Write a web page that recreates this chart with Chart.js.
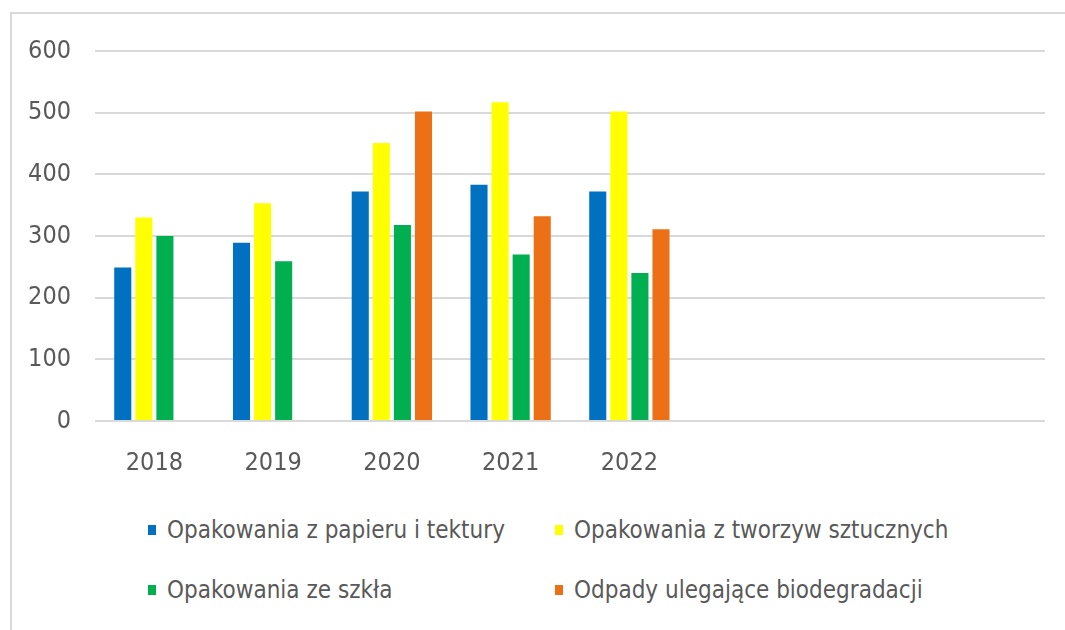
<!DOCTYPE html>
<html>
<head>
<meta charset="utf-8">
<script src="https://cdn.jsdelivr.net/npm/chart.js@4"></script>
<style>
  body { margin: 0; background: #fff; overflow: hidden; }
  #frame { position: absolute; left: 10px; top: 12px; width: 1100px; height: 700px; border: 2px solid #d9d9d9; }
  #wrap { position: absolute; left: 0; top: 0; width: 1065px; height: 500px; }
  #legend { position: absolute; left: 148px; top: 516px; width: 860px; font-family: "DejaVu Sans Condensed", sans-serif; font-size: 24px; color: #595959; }
  .item { position: absolute; white-space: nowrap; }
  .box { display: inline-block; width: 8px; height: 10px; margin-right: 11px; vertical-align: 3px; }
</style>
</head>
<body>
<div id="frame"></div>
<div id="wrap"><canvas id="chart"></canvas></div>
<div id="legend"></div>
<script>
  // data
  const years = ['2018', '2019', '2020', '2021', '2022', '', '', ''];
  const seriesNames = [
    'Opakowania z papieru i tektury',
    'Opakowania z tworzyw sztucznych',
    'Opakowania ze szkła',
    'Odpady ulegające biodegradacji'
  ];
  const papier = [249, 289, 372, 383, 372];
  const tworzywa = [330, 353, 451, 517, 502];
  const szklo = [300, 259, 318, 270, 240];
  const bio = [null, null, 502, 332, 311];
  const yTicks = [0, 100, 200, 300, 400, 500, 600];

  const colors = ['#0070C0', '#FFFF00', '#00B050', '#EC7016'];
  const values = [papier, tworzywa, szklo, bio];

  const font = "'DejaVu Sans Condensed', sans-serif";

  new Chart(document.getElementById('chart'), {
    type: 'bar',
    data: {
      labels: years,
      datasets: values.map((v, i) => ({
        label: seriesNames[i],
        data: v,
        backgroundColor: colors[i],
        borderWidth: 0,
        barPercentage: 0.81,
        categoryPercentage: 0.71
      }))
    },
    options: {
      responsive: true,
      maintainAspectRatio: false,
      animation: false,
      layout: { padding: { top: 51, right: 20, left: 0, bottom: 0 } },
      plugins: { legend: { display: false }, tooltip: { enabled: false } },
      scales: {
        x: {
          grid: { display: false, drawTicks: false },
          border: { display: false },
          ticks: { color: '#595959', font: { family: font, size: 25 }, padding: 27, maxRotation: 0 },
          afterFit: s => { s.height = 79; }
        },
        y: {
          min: 0, max: 600,
          afterBuildTicks: s => { s.ticks = yTicks.map(v => ({ value: v })); },
          grid: { color: '#d9d9d9', lineWidth: 2, drawTicks: false },
          border: { display: false },
          ticks: { color: '#595959', font: { family: font, size: 25 }, padding: 24 },
          afterFit: s => { s.width = 95; }
        }
      }
    }
  });

  // legend in two columns, like the original
  const legend = document.getElementById('legend');
  const pos = [[0, 0], [407, 0], [0, 60], [407, 60]];
  seriesNames.forEach((name, i) => {
    const d = document.createElement('div');
    d.className = 'item';
    d.style.left = pos[i][0] + 'px';
    d.style.top = pos[i][1] + 'px';
    d.innerHTML = '<span class="box" style="background:' + colors[i] + '"></span>' + name;
    legend.appendChild(d);
  });
</script>
</body>
</html>
